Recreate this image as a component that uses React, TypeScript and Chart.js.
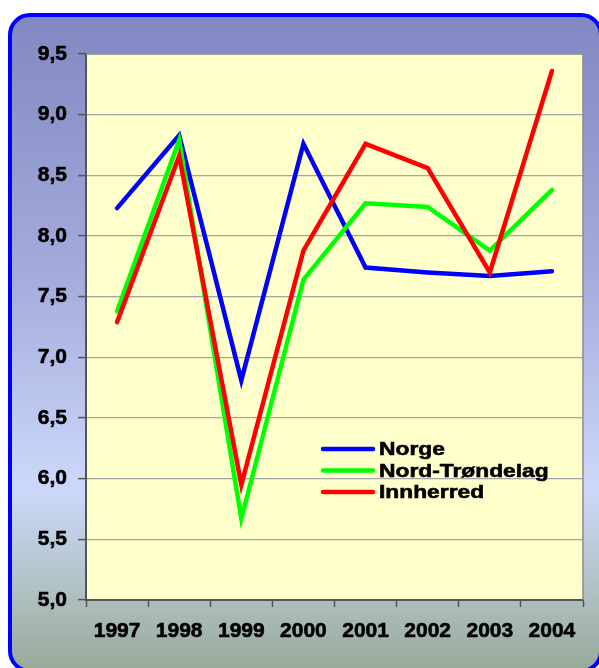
import React, { useEffect, useRef } from "react";
import { Chart, registerables } from "chart.js";

Chart.register(...registerables);

const years = ["1997", "1998", "1999", "2000", "2001", "2002", "2003", "2004"];
const norge = [8.23, 8.83, 6.81, 8.76, 7.74, 7.7, 7.67, 7.71];
const nordTrondelag = [7.38, 8.79, 5.67, 7.64, 8.27, 8.24, 7.88, 8.38];
const innherred = [7.29, 8.66, 5.95, 7.88, 8.76, 8.56, 7.7, 9.36];
const seriesNames = ["Norge", "Nord-Trøndelag", "Innherred"];
const seriesColors = ["#0000FF", "#00FF00", "#FF0000"];

const FONT = "'Liberation Sans', Arial, sans-serif";
const CANVAS_W = 587;

const plotPlugin = {
  id: "plotDecor",
  beforeDraw(chart: any) {
    const { ctx, chartArea } = chart;
    ctx.save();
    ctx.fillStyle = "#FFFFCC";
    ctx.fillRect(chartArea.left, chartArea.top, chartArea.right - chartArea.left, chartArea.bottom - chartArea.top);
    ctx.restore();
  },
  afterDraw(chart: any) {
    const { ctx, chartArea } = chart;
    ctx.save();
    ctx.strokeStyle = "#8c8c8c";
    ctx.lineWidth = 1.5;
    ctx.beginPath();
    ctx.moveTo(chartArea.left, chartArea.top);
    ctx.lineTo(chartArea.right, chartArea.top);
    ctx.lineTo(chartArea.right, chartArea.bottom);
    ctx.stroke();

    // custom legend
    const x0 = 311;
    const y0 = 432;
    const dy = 21.5;
    seriesNames.forEach((name, i) => {
      const y = y0 + i * dy;
      ctx.strokeStyle = seriesColors[i];
      ctx.lineWidth = 4.5;
      ctx.lineCap = "round";
      ctx.beginPath();
      ctx.moveTo(x0, y);
      ctx.lineTo(x0 + 50, y);
      ctx.stroke();
      ctx.save();
      ctx.translate(x0 + 56, y);
      ctx.scale(1.2, 1);
      ctx.fillStyle = "#000";
      ctx.strokeStyle = "#000";
      ctx.lineWidth = 0.6;
      ctx.font = `bold 19px ${FONT}`;
      ctx.textBaseline = "middle";
      ctx.textAlign = "left";
      ctx.fillText(name, 0, 1);
      ctx.strokeText(name, 0, 1);
      ctx.restore();
    });
    ctx.restore();
  },
};

export default function App() {
  const ref = useRef<HTMLCanvasElement>(null);

  useEffect(() => {
    if (!ref.current) return;
    const data = [norge, nordTrondelag, innherred];
    const chart = new Chart(ref.current, {
      type: "line",
      data: {
        labels: years,
        datasets: data.map((d, i) => ({
          label: seriesNames[i],
          data: d,
          borderColor: seriesColors[i],
          backgroundColor: seriesColors[i],
          borderWidth: 4.5,
          borderCapStyle: "round",
          pointRadius: 0,
          tension: 0,
          fill: false,
          order: 3 - i,
        })),
      },
      options: {
        responsive: false,
        animation: false,
        layout: { padding: { top: 37, right: CANVAS_W - 571, left: 0, bottom: 0 } },
        plugins: { legend: { display: false }, tooltip: { enabled: false } },
        scales: {
          x: {
            offset: true,
            afterFit: (s: any) => {
              s.height = 57;
            },
            grid: {
              display: true,
              drawOnChartArea: false,
              drawTicks: true,
              offset: true,
              tickLength: 7,
              tickColor: "#555",
              tickWidth: 1.5,
            },
            border: { color: "#555", width: 2 },
            ticks: {
              color: "#000",
              font: { family: FONT, size: 21, weight: "bold" },
              textStrokeColor: "#000",
              textStrokeWidth: 0.6,
              padding: 12,
              maxRotation: 0,
              autoSkip: false,
            },
          },
          y: {
            min: 5,
            max: 9.5,
            afterFit: (s: any) => {
              s.width = 74;
            },
            grid: {
              color: "#a4a4a4",
              lineWidth: 1.2,
              tickLength: 8,
              tickColor: "#555",
              tickWidth: 1.5,
            },
            border: { color: "#555", width: 2 },
            ticks: {
              stepSize: 0.5,
              color: "#000",
              font: { family: FONT, size: 21, weight: "bold" },
              textStrokeColor: "#000",
              textStrokeWidth: 0.6,
              padding: 11,
              callback: (v: any) => Number(v).toFixed(1).replace(".", ","),
            },
          },
        },
      },
      plugins: [plotPlugin],
    } as any);
    return () => chart.destroy();
  }, []);

  return (
    <div
      style={{
        position: "fixed",
        left: 8,
        top: 13,
        width: 591,
        height: 655,
        overflow: "hidden",
      }}
    >
      <div
        style={{
          width: CANVAS_W,
          height: 652,
          border: "4px solid #0000FF",
          borderRadius: 22,
          background:
            "linear-gradient(to bottom, #8288C2 0%, #A4ACDC 40%, #CCD8FA 72%, #B8C8D2 84%, #98AA98 100%)",
          overflow: "hidden",
        }}
      >
        <canvas ref={ref} width={CANVAS_W} height={640} style={{ display: "block" }} />
      </div>
    </div>
  );
}
